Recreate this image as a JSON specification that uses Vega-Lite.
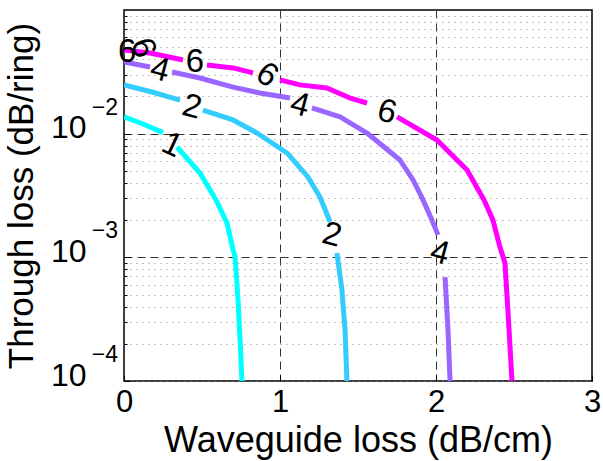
{
  "$schema": "https://vega.github.io/schema/vega-lite/v6.json",
  "width": 468,
  "height": 371,
  "autosize": {"type": "none"},
  "padding": {"left": 124, "top": 10, "right": 11, "bottom": 80},
  "background": "white",
  "config": {
    "view": {"stroke": "black", "strokeWidth": 1.5},
    "font": "Liberation Sans",
    "text": {"font": "Liberation Sans"}
  },
  "datasets": {
    "curves": [
      {"level": "1", "seg": "1a", "x": 0, "y": 0.01371},
      {"level": "1", "seg": "1a", "x": 0.122, "y": 0.01197},
      {"level": "1", "seg": "1a", "x": 0.25, "y": 0.01019},
      {"level": "1", "seg": "1b", "x": 0.34, "y": 0.0078},
      {"level": "1", "seg": "1b", "x": 0.487, "y": 0.00481},
      {"level": "1", "seg": "1b", "x": 0.59, "y": 0.00291},
      {"level": "1", "seg": "1b", "x": 0.66, "y": 0.0019},
      {"level": "1", "seg": "1b", "x": 0.699, "y": 0.00115},
      {"level": "1", "seg": "1b", "x": 0.712, "y": 0.00101},
      {"level": "1", "seg": "1b", "x": 0.731, "y": 0.000452},
      {"level": "1", "seg": "1b", "x": 0.744, "y": 0.000215},
      {"level": "1", "seg": "1b", "x": 0.756, "y": 0.0001},
      {"level": "2", "seg": "2a", "x": 0, "y": 0.02477},
      {"level": "2", "seg": "2a", "x": 0.179, "y": 0.02173},
      {"level": "2", "seg": "2a", "x": 0.359, "y": 0.0187},
      {"level": "2", "seg": "2b", "x": 0.506, "y": 0.01552},
      {"level": "2", "seg": "2b", "x": 0.699, "y": 0.0129},
      {"level": "2", "seg": "2b", "x": 0.853, "y": 0.01012},
      {"level": "2", "seg": "2b", "x": 1.045, "y": 0.00698},
      {"level": "2", "seg": "2b", "x": 1.179, "y": 0.00447},
      {"level": "2", "seg": "2b", "x": 1.256, "y": 0.00308},
      {"level": "2", "seg": "2b", "x": 1.321, "y": 0.00193},
      {"level": "2", "seg": "2c", "x": 1.365, "y": 0.001084},
      {"level": "2", "seg": "2c", "x": 1.397, "y": 0.000545},
      {"level": "2", "seg": "2c", "x": 1.417, "y": 0.000258},
      {"level": "2", "seg": "2c", "x": 1.429, "y": 0.0001},
      {"level": "4", "seg": "4a", "x": 0, "y": 0.038},
      {"level": "4", "seg": "4a", "x": 0.167, "y": 0.0346},
      {"level": "4", "seg": "4b", "x": 0.308, "y": 0.0315},
      {"level": "4", "seg": "4b", "x": 0.487, "y": 0.0282},
      {"level": "4", "seg": "4b", "x": 0.699, "y": 0.0238},
      {"level": "4", "seg": "4b", "x": 0.872, "y": 0.0213},
      {"level": "4", "seg": "4b", "x": 1.064, "y": 0.0194},
      {"level": "4", "seg": "4c", "x": 1.205, "y": 0.01614},
      {"level": "4", "seg": "4c", "x": 1.385, "y": 0.01365},
      {"level": "4", "seg": "4c", "x": 1.558, "y": 0.01012},
      {"level": "4", "seg": "4c", "x": 1.769, "y": 0.00612},
      {"level": "4", "seg": "4c", "x": 1.853, "y": 0.00422},
      {"level": "4", "seg": "4c", "x": 1.917, "y": 0.00291},
      {"level": "4", "seg": "4c", "x": 1.968, "y": 0.00208},
      {"level": "4", "seg": "4c", "x": 2.013, "y": 0.00152},
      {"level": "4", "seg": "4d", "x": 2.058, "y": 0.000693},
      {"level": "4", "seg": "4d", "x": 2.077, "y": 0.000258},
      {"level": "4", "seg": "4d", "x": 2.09, "y": 0.0001},
      {"level": "6", "seg": "6a", "x": 0, "y": 0.0475},
      {"level": "6", "seg": "6a", "x": 0.167, "y": 0.0449},
      {"level": "6", "seg": "6a", "x": 0.378, "y": 0.0394},
      {"level": "6", "seg": "6b", "x": 0.532, "y": 0.0359},
      {"level": "6", "seg": "6b", "x": 0.699, "y": 0.034},
      {"level": "6", "seg": "6b", "x": 0.827, "y": 0.031},
      {"level": "6", "seg": "6c", "x": 1.0, "y": 0.0272},
      {"level": "6", "seg": "6c", "x": 1.128, "y": 0.0248},
      {"level": "6", "seg": "6c", "x": 1.301, "y": 0.0234},
      {"level": "6", "seg": "6c", "x": 1.449, "y": 0.0194},
      {"level": "6", "seg": "6c", "x": 1.558, "y": 0.0177},
      {"level": "6", "seg": "6d", "x": 1.75, "y": 0.01365},
      {"level": "6", "seg": "6d", "x": 2.006, "y": 0.00889},
      {"level": "6", "seg": "6d", "x": 2.199, "y": 0.00508},
      {"level": "6", "seg": "6d", "x": 2.308, "y": 0.00291},
      {"level": "6", "seg": "6d", "x": 2.365, "y": 0.002},
      {"level": "6", "seg": "6d", "x": 2.41, "y": 0.00121},
      {"level": "6", "seg": "6d", "x": 2.442, "y": 0.0009},
      {"level": "6", "seg": "6d", "x": 2.462, "y": 0.000355},
      {"level": "6", "seg": "6d", "x": 2.487, "y": 0.0001}
    ],
    "labels": [
      {"id": "1a", "text": "1", "x": 0.308, "y": 0.00809},
      {"id": "2a", "text": "2", "x": 0.436, "y": 0.01644},
      {"id": "2b", "text": "2", "x": 1.333, "y": 0.00152},
      {"id": "4a", "text": "4", "x": 0.231, "y": 0.0327},
      {"id": "4b", "text": "4", "x": 1.128, "y": 0.01706},
      {"id": "4c", "text": "4", "x": 2.026, "y": 0.001084},
      {"id": "6a", "text": "6", "x": 0.455, "y": 0.038},
      {"id": "6b", "text": "6", "x": 0.917, "y": 0.0298},
      {"id": "6c", "text": "6", "x": 1.686, "y": 0.01496},
      {"id": "6t", "text": "6", "x": 0.02, "y": 0.0457},
      {"id": "6r", "text": "6", "x": 0.122, "y": 0.0493}
    ],
    "exponents": [
      {"x": 0, "y": 0.0001, "exp": "−4"},
      {"x": 0, "y": 0.001, "exp": "−3"},
      {"x": 0, "y": 0.01, "exp": "−2"}
    ]
  },
  "layer": [
    {
      "data": {"name": "curves"},
      "mark": {"type": "line", "strokeWidth": 5, "clip": true, "strokeCap": "butt", "strokeJoin": "round", "interpolate": "linear"},
      "encoding": {
        "x": {
          "field": "x", "type": "quantitative",
          "scale": {"domain": [0, 3], "nice": false, "zero": false},
          "axis": {
            "values": [0, 1, 2, 3],
            "format": "d",
            "title": "Waveguide loss (dB/cm)",
            "titleFontSize": 36, "titleFontWeight": "normal", "titleColor": "black",
            "titleBaseline": "alphabetic", "titleX": 234, "titleY": 70, "titleAlign": "center",
            "labelFontSize": 31, "labelColor": "black", "labelPadding": 12,
            "labelFlush": false, "labelOverlap": false,
            "domain": false,
            "ticks": true, "tickSize": -6, "tickColor": "black", "tickWidth": 1,
            "grid": true,
            "gridColor": {"condition": {"test": "datum.value > 0 && datum.value < 3", "value": "#333333"}, "value": "rgba(0,0,0,0)"},
            "gridDash": [8, 5], "gridWidth": 1, "gridOpacity": 1
          }
        },
        "y": {
          "field": "y", "type": "quantitative",
          "scale": {"type": "log", "domain": [0.0001, 0.1], "nice": false},
          "axis": {
            "values": [0.0001, 0.0002, 0.0003, 0.0004, 0.0005, 0.0006, 0.0007, 0.0008, 0.0009,
                       0.001, 0.002, 0.003, 0.004, 0.005, 0.006, 0.007, 0.008, 0.009,
                       0.01, 0.02, 0.03, 0.04, 0.05, 0.06, 0.07, 0.08, 0.09],
            "labelExpr": "(datum.value == 0.0001 || datum.value == 0.001 || datum.value == 0.01) ? '10' : ''",
            "title": "Through loss (dB/ring)",
            "titleFontSize": 35, "titleFontWeight": "normal", "titleColor": "black",
            "titleBaseline": "alphabetic", "titleX": -92, "titleY": 185.5, "titleAlign": "center", "titleAngle": -90,
            "labelFontSize": 32, "labelColor": "black", "labelPadding": 44, "labelOffset": -6,
            "labelFlush": false, "labelOverlap": false,
            "domain": false,
            "ticks": true, "tickColor": "black", "tickWidth": 1,
            "tickSize": {"condition": {"test": "datum.value == 0.0001 || datum.value == 0.001 || datum.value == 0.01", "value": -6}, "value": -3},
            "grid": true,
            "gridColor": {"condition": {"test": "datum.value == 0.001 || datum.value == 0.01", "value": "#333333"}, "value": "#888888"},
            "gridDash": {"condition": {"test": "datum.value == 0.001 || datum.value == 0.01", "value": [8, 5]}, "value": [1, 5]},
            "gridWidth": 1, "gridOpacity": 1
          }
        },
        "color": {
          "field": "level", "type": "nominal",
          "scale": {"domain": ["1", "2", "4", "6"], "range": ["#00ffff", "#33ccff", "#9966ff", "#ff00ff"]},
          "legend": null
        },
        "detail": {"field": "seg", "type": "nominal"}
      }
    },
    {
      "data": {"name": "exponents"},
      "mark": {"type": "text", "fontSize": 23, "align": "right", "baseline": "middle", "dx": -6, "dy": -26, "color": "black", "clip": false},
      "encoding": {"x": {"field": "x", "type": "quantitative"}, "y": {"field": "y", "type": "quantitative"}, "text": {"field": "exp"}}
    },
    {
      "data": {"name": "labels"},
      "transform": [{"filter": {"field": "id", "oneOf": ["2a", "2b", "4a", "4b", "4c", "6c"]}}],
      "mark": {"type": "text", "fontSize": 33, "angle": 15, "align": "center", "baseline": "middle", "color": "black"},
      "encoding": {"x": {"field": "x", "type": "quantitative"}, "y": {"field": "y", "type": "quantitative"}, "text": {"field": "text"}}
    },
    {
      "data": {"name": "labels"},
      "transform": [{"filter": {"field": "id", "oneOf": ["1a"]}}],
      "mark": {"type": "text", "fontSize": 33, "angle": 25, "align": "center", "baseline": "middle", "color": "black"},
      "encoding": {"x": {"field": "x", "type": "quantitative"}, "y": {"field": "y", "type": "quantitative"}, "text": {"field": "text"}}
    },
    {
      "data": {"name": "labels"},
      "transform": [{"filter": {"field": "id", "oneOf": ["6b"]}}],
      "mark": {"type": "text", "fontSize": 33, "angle": 35, "align": "center", "baseline": "middle", "color": "black"},
      "encoding": {"x": {"field": "x", "type": "quantitative"}, "y": {"field": "y", "type": "quantitative"}, "text": {"field": "text"}}
    },
    {
      "data": {"name": "labels"},
      "transform": [{"filter": {"field": "id", "oneOf": ["6a", "6t"]}}],
      "mark": {"type": "text", "fontSize": 33, "angle": 0, "align": "center", "baseline": "middle", "color": "black"},
      "encoding": {"x": {"field": "x", "type": "quantitative"}, "y": {"field": "y", "type": "quantitative"}, "text": {"field": "text"}}
    },
    {
      "data": {"name": "labels"},
      "transform": [{"filter": {"field": "id", "oneOf": ["6r"]}}],
      "mark": {"type": "text", "fontSize": 33, "angle": 70, "align": "center", "baseline": "middle", "color": "black"},
      "encoding": {"x": {"field": "x", "type": "quantitative"}, "y": {"field": "y", "type": "quantitative"}, "text": {"field": "text"}}
    }
  ]
}
